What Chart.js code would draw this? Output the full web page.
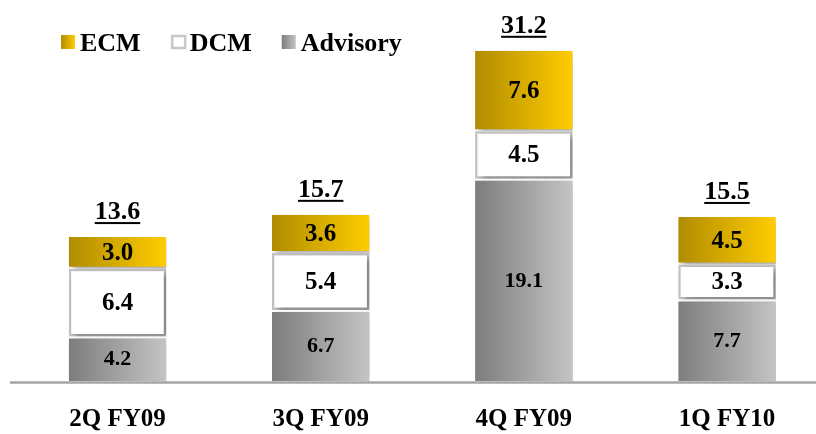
<!DOCTYPE html>
<html>
<head>
<meta charset="utf-8">
<script src="https://cdn.jsdelivr.net/npm/chart.js@4/dist/chart.umd.min.js"></script>
<style>
  html, body { margin: 0; padding: 0; background: #fff; }
  #wrap { width: 816px; height: 434px; }
</style>
</head>
<body>
<div id="wrap"><canvas id="revChart" width="816" height="434"></canvas></div>
<script>
const quarters = ['2Q FY09', '3Q FY09', '4Q FY09', '1Q FY10'];
const advisory = [4.2, 6.7, 19.1, 7.7];
const dcm = [6.4, 5.4, 4.5, 3.3];
const ecm = [3.0, 3.6, 7.6, 4.5];
const totals = [13.6, 15.7, 31.2, 15.5];

const FONT = '"Liberation Serif", "Times New Roman", serif';
const CAT_PCT = 0.96;
const BAR_PCT = 0.5;

// horizontal gradient across the width of each bar
function barGradient(c0, c1) {
    return function (ctx) {
        const chart = ctx.chart;
        const area = chart.chartArea;
        if (!area || ctx.type !== 'data') return c1;
        const x = chart.scales.x.getPixelForValue(ctx.dataIndex);
        const w = area.width / (quarters.length - 1) * CAT_PCT * BAR_PCT;
        const g = chart.ctx.createLinearGradient(x - w / 2, 0, x + w / 2, 0);
        g.addColorStop(0, c0);
        g.addColorStop(1, c1);
        return g;
    };
}

const shadowPlugin = {
    id: 'barShadow',
    beforeDatasetsDraw(chart) {
        const ctx = chart.ctx;
        const y0 = chart.scales.y.getPixelForValue(0);
        // baseline
        ctx.save();
        ctx.strokeStyle = '#a4a4a4';
        ctx.lineWidth = 2.5;
        ctx.beginPath();
        ctx.moveTo(10, y0 + 1.5);
        ctx.lineTo(chart.width, y0 + 1.5);
        ctx.stroke();
        ctx.restore();

        ctx.save();
        ctx.shadowColor = 'rgba(0,0,0,0.35)';
        ctx.shadowBlur = 6;
        ctx.shadowOffsetX = 4;
        ctx.shadowOffsetY = 3;
    },
    afterDatasetsDraw(chart) {
        chart.ctx.restore();
    }
};

const labelPlugin = {
    id: 'valueLabels',
    afterDatasetsDraw(chart) {
        const ctx = chart.ctx;
        ctx.save();
        ctx.fillStyle = '#000';
        ctx.textAlign = 'center';
        ctx.textBaseline = 'middle';
        chart.data.datasets.forEach(function (ds, di) {
            const meta = chart.getDatasetMeta(di);
            ctx.font = 'bold ' + (di === 0 ? 22 : 25) + 'px ' + FONT;
            meta.data.forEach(function (bar, i) {
                const mid = (bar.y + bar.base) / 2;
                ctx.fillText(ds.data[i].toFixed(1), bar.x, mid + 1);
            });
        });

        // totals, underlined
        const top = chart.getDatasetMeta(chart.data.datasets.length - 1);
        ctx.font = 'bold 26px ' + FONT;
        ctx.textBaseline = 'alphabetic';
        top.data.forEach(function (bar, i) {
            const txt = totals[i].toFixed(1);
            const y = bar.y - 18;
            ctx.fillText(txt, bar.x, y);
            const w = ctx.measureText(txt).width;
            ctx.fillRect(bar.x - w / 2, y + 3, w, 2);
        });
        ctx.restore();
    }
};

const legendPlugin = {
    id: 'topLegend',
    afterDraw(chart) {
        const ctx = chart.ctx;
        const items = [
            { text: 'ECM', c0: '#b08c00', c1: '#ffcc00' },
            { text: 'DCM', c0: null },
            { text: 'Advisory', c0: '#7d7d7d', c1: '#c4c4c4' }
        ];
        ctx.save();
        ctx.font = 'bold 26px ' + FONT;
        ctx.textBaseline = 'alphabetic';
        ctx.fillStyle = '#000';
        let x = 61;
        const by = 35, bs = 14;
        items.forEach(function (it) {
            if (it.c0) {
                const g = ctx.createLinearGradient(x, 0, x + bs, 0);
                g.addColorStop(0, it.c0);
                g.addColorStop(1, it.c1);
                ctx.fillStyle = g;
                ctx.fillRect(x, by, bs, bs);
            } else {
                ctx.strokeStyle = '#c8c8c8';
                ctx.lineWidth = 2.5;
                ctx.strokeRect(x + 1.5, by + 1, bs - 1, bs - 2);
            }
            ctx.fillStyle = '#000';
            ctx.fillText(it.text, x + bs + 5, 51);
            x += bs + 5 + ctx.measureText(it.text).width + 30;
        });
        ctx.restore();
    }
};

const canvas = document.getElementById('revChart');
new Chart(canvas.getContext('2d'), {
    type: 'bar',
    data: {
        labels: quarters,
        datasets: [
            {
                label: 'Advisory',
                data: advisory,
                backgroundColor: barGradient('#7d7d7d', '#c4c4c4'),
                borderColor: '#ffffff',
                borderWidth: { top: 2, left: 0, right: 0, bottom: 0 },
                borderSkipped: false
            },
            {
                label: 'DCM',
                data: dcm,
                backgroundColor: '#ffffff',
                borderColor: '#c4c4c4',
                borderWidth: 2.5,
                borderSkipped: false
            },
            {
                label: 'ECM',
                data: ecm,
                backgroundColor: barGradient('#b08c00', '#ffcc00'),
                borderColor: '#ffffff',
                borderWidth: { top: 0, left: 0, right: 0, bottom: 2 },
                borderSkipped: false
            }
        ]
    },
    options: {
        responsive: false,
        animation: false,
        events: [],
        layout: { padding: { left: 117.5, right: 89, top: 0, bottom: 0 } },
        datasets: {
            bar: { categoryPercentage: CAT_PCT, barPercentage: BAR_PCT, clip: false }
        },
        scales: {
            x: {
                stacked: true,
                offset: false,
                grid: { display: false, drawTicks: false },
                border: { display: false },
                ticks: {
                    color: '#000',
                    padding: 24,
                    font: { family: FONT, size: 25, weight: 'bold' }
                },
                afterFit(scale) {
                    scale.height = 53;
                    scale.paddingLeft = 0;
                    scale.paddingRight = 0;
                }
            },
            y: {
                stacked: true,
                display: false,
                min: 0,
                max: 36
            }
        },
        plugins: {
            legend: { display: false },
            tooltip: { enabled: false }
        }
    },
    plugins: [shadowPlugin, labelPlugin, legendPlugin]
});
</script>
</body>
</html>
